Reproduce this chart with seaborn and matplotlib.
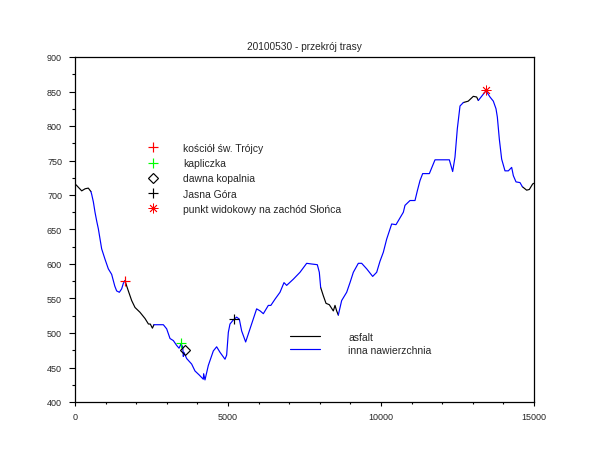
import numpy as np
import pandas as pd
import matplotlib
matplotlib.use("Agg")
import matplotlib.pyplot as plt
import seaborn as sns
from matplotlib.lines import Line2D
from matplotlib.ticker import MultipleLocator

# route profile: distance [m], elevation [m]
dist = [0, 50, 219, 330, 435, 520,
        545, 600, 654, 710, 763, 871, 980, 1089, 1198, 1252, 1300, 1361, 1449, 1525, 1580, 1634,
        1690, 1743, 1852, 1961, 2124, 2288, 2400, 2460, 2530, 2580,
        2614, 2887, 2996, 3105, 3214, 3322, 3400, 3464, 3520, 3540, 3560, 3649, 3812, 3921,
        4063, 4193, 4204, 4248, 4357, 4520, 4629, 4739, 4902, 4956, 5011, 5065, 5174, 5283, 5370,
        5446, 5577, 5719, 5936, 6050, 6155, 6318, 6400, 6536, 6699, 6830, 6917, 7135, 7353, 7571,
        7734, 7919, 7984, 8028,
        8115, 8203, 8311, 8442, 8497, 8551, 8605,
        8714, 8878, 8987, 9096, 9259, 9368, 9532, 9728, 9859, 9967, 10076, 10185, 10349,
        10490, 10730, 10784, 10948, 11111, 11187, 11275, 11362, 11580, 11765, 12233, 12342, 12418,
        12494, 12582, 12691, 12850,
        13017, 13126, 13181,
        13431, 13562, 13671, 13758, 13802, 13867, 13943, 14052, 14161, 14270, 14325, 14412,
        14542, 14620,
        14760, 14848, 14956, 15000]
elev = [716, 714, 706, 709, 710, 705,
        701, 690, 675, 662, 651, 622, 607, 593, 585, 576, 568, 561, 559, 564, 572, 576,
        568, 561, 547, 537, 530, 521, 513, 513, 507, 512,
        512, 512, 506, 492, 489, 482, 478, 484, 480, 466, 472, 463, 455, 445,
        439, 433, 441, 432, 453, 474, 480, 472, 462, 468, 501, 513, 519, 523, 520,
        503, 487, 506, 535, 532, 528, 540, 540, 549, 559, 573, 569, 578, 588, 601,
        600, 599, 588, 566,
        554, 543, 541, 532, 540, 532, 526,
        547, 559, 573, 588, 601, 601, 593, 582, 588, 604, 617, 636, 658,
        657, 675, 685, 692, 692, 706, 721, 731, 731, 751, 751, 734, 755,
        796, 829, 834, 836,
        843, 842, 837,
        851, 842, 836, 825, 813, 781, 752, 735, 735, 740, 728, 719,
        718, 712,
        707, 708, 716, 717]

# road surface: stretch boundaries [m] and the surface of each stretch
surface_breaks = [0, 520, 1634, 2580, 8028, 8605, 12691, 13181, 14620, 15000]
surface_type = ["asfalt", "inna nawierzchnia", "asfalt", "inna nawierzchnia", "asfalt",
                "inna nawierzchnia", "asfalt", "inna nawierzchnia", "asfalt"]

# points of interest
poi_names = ["kościół św. Trójcy", "kapliczka", "dawna kopalnia", "Jasna Góra",
             "punkt widokowy na zachód Słońca"]
poi_dist = [1634, 3464, 3584, 5196, 13431]
poi_elev = [576, 486, 476, 520, 852]
poi_style = [("+", "red", "red"), ("+", "#00ff00", "#00ff00"), ("D", "black", "none"),
             ("+", "black", "black"), ((8, 2, 0), "red", "red")]

profile = pd.DataFrame({"dist": dist, "elev": elev})
parts = []
for i, surf in enumerate(surface_type):
    lo, hi = surface_breaks[i], surface_breaks[i + 1]
    part = profile[(profile["dist"] >= lo) & (profile["dist"] <= hi)].copy()
    part["surface"] = surf
    part["seg"] = i
    parts.append(part)
df = pd.concat(parts, ignore_index=True)

sns.set_style("white")
plt.rcParams["font.family"] = ["Liberation Sans", "DejaVu Sans"]

fig = plt.figure(figsize=(6.1, 4.6), dpi=100)
ax = fig.add_axes([75 / 610, 1 - 403 / 460, 459 / 610, 345 / 460])

palette = {"asfalt": "black", "inna nawierzchnia": "blue"}
sns.lineplot(data=df, x="dist", y="elev", hue="surface", units="seg", estimator=None,
             sort=False, palette=palette, legend=False, lw=0.85, ax=ax)


def marker_size(m):
    if m == "D":
        return 5
    if m == "+":
        return 6.5
    return 7


def marker_width(m):
    return 0.85 if m in ("+", "D") else 0.6


for name, x, y, (m, ec, fc) in zip(poi_names, poi_dist, poi_elev, poi_style):
    ax.plot(x, y, linestyle="none", marker=m, markersize=marker_size(m),
            markeredgecolor=ec, markerfacecolor=fc, markeredgewidth=marker_width(m))

ax.set_xlim(0, 15000)
ax.set_ylim(400, 900)
ax.xaxis.set_major_locator(MultipleLocator(5000))
ax.xaxis.set_minor_locator(MultipleLocator(1000))
ax.yaxis.set_major_locator(MultipleLocator(50))
ax.yaxis.set_minor_locator(MultipleLocator(25))
ax.tick_params(which="both", direction="out", width=0.8, color="black",
               labelsize=6.5, bottom=True, left=True, top=False, right=False)
ax.tick_params(axis="x", which="major", length=3, pad=4.3)
ax.tick_params(axis="x", which="minor", length=1.5)
ax.tick_params(axis="y", which="major", length=4.3, pad=5)
ax.tick_params(axis="y", which="minor", length=2.2)
for s in ax.spines.values():
    s.set_color("black")
    s.set_linewidth(0.9)
ax.set_xlabel("")
ax.set_ylabel("")
ax.set_title("20100530 - przekrój trasy", fontsize=7.3, pad=6)

poi_handles = [Line2D([], [], linestyle="none", marker=m, markersize=marker_size(m),
                      markeredgecolor=ec, markerfacecolor=fc, markeredgewidth=marker_width(m))
               for (m, ec, fc) in poi_style]
leg1 = ax.legend(poi_handles, poi_names, loc="upper left",
                 bbox_to_anchor=(148 / 610, 1 - 144 / 460), bbox_transform=fig.transFigure,
                 frameon=False, fontsize=7.5, handlelength=1.0, handletextpad=2.4,
                 labelspacing=0.5, borderpad=0, borderaxespad=0)
ax.add_artist(leg1)

line_handles = [Line2D([], [], color="black", lw=0.85), Line2D([], [], color="blue", lw=0.85)]
ax.legend(line_handles, ["asfalt", "inna nawierzchnia"], loc="upper left",
          bbox_to_anchor=(290 / 610, 1 - 333 / 460), bbox_transform=fig.transFigure,
          frameon=False, fontsize=7.5, handlelength=2.9, handletextpad=2.7,
          labelspacing=0.25, borderpad=0, borderaxespad=0)

fig.savefig("out.png", dpi=100)
